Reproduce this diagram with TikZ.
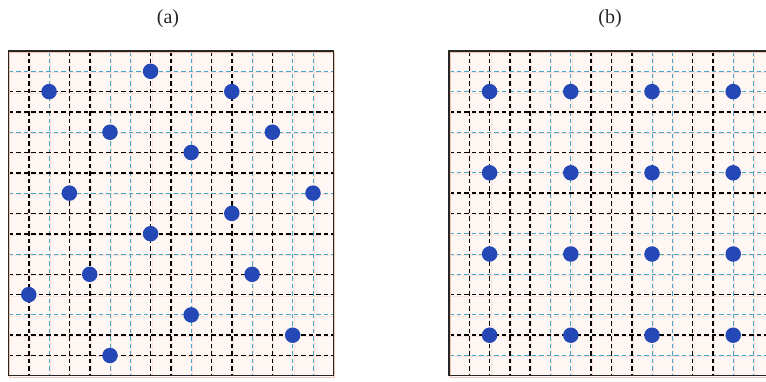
\documentclass[tikz,border=0pt]{standalone}
\usepackage{fontspec}
\setmainfont{Liberation Serif}
\definecolor{dotblue}{RGB}{36,72,182}
\definecolor{gcyan}{RGB}{75,165,200}
\definecolor{gorange}{RGB}{240,170,140}
\definecolor{gbg}{RGB}{254,247,244}
\begin{document}
\begin{tikzpicture}[x=1pt,y=-1pt,
 blackline/.style={black, line width=1.6pt, dash pattern=on 4.5pt off 3pt},
 cyanline/.style={gcyan, line width=1pt, dash pattern=on 4.5pt off 3pt},
 faint/.style={gorange!30, line width=0.5pt},
 frame/.style={draw=black!85, line width=1.1pt},
 dot/.style={circle, fill=dotblue, inner sep=0pt, minimum size=15.5pt},
 lab/.style={font=\fontsize{20}{24}\selectfont, text=black!85}]
\useasboundingbox (0,0) rectangle (766,381);
\def\S{20.3}
\def\L{324.8}
% ---------- left panel ----------
\begin{scope}[shift={(8.5,51)}]
 \fill[gbg] (0,0) rectangle (\L,\L);
 \foreach \k in {1,...,15} {
   \draw[faint] (\k*\S+1.2,0) -- ++(0,\L);
   \draw[faint] (0,\k*\S+1.2) -- ++(\L,0);
 }
 \foreach \k in {2,5,6,9,12,14,15} \draw[cyanline] (\k*\S,0) -- ++(0,\L);
 \foreach \k in {1,4,7,10,13} \draw[cyanline] (0,\k*\S) -- ++(\L,0);
 \foreach \k in {1,3,4,7,8,10,11,13} \draw[blackline] (\k*\S,0) -- ++(0,\L);
 \foreach \k in {2,3,5,6,8,9,11,12,14,15} \draw[blackline] (0,\k*\S) -- ++(\L,0);
 \draw[gorange!70, line width=0.8pt] (1.2,1.2) rectangle (\L+1.2,\L+1.2);
 \draw[frame] (0,0) rectangle (\L,\L);
 \foreach \i/\j [count=\n] in {7/1,2/2,11/2,5/4,13/4,9/5,3/7,15/7,11/8,7/9,4/11,12/11,1/12,9/13,14/14,5/15}
   \node[dot] (la\n) at (\i*\S,\j*\S) {};
\end{scope}
% ---------- right panel ----------
\begin{scope}[shift={(449,51)}]
 \clip (-3,-3) rectangle (317.5,\L+3);
 \fill[gbg] (0,0) rectangle (\L,\L);
 \foreach \k in {1,...,15} {
   \draw[faint] (\k*\S+1.2,0) -- ++(0,\L);
   \draw[faint] (0,\k*\S+1.2) -- ++(\L,0);
 }
 \foreach \k in {5,6,10,11,14,15} \draw[cyanline] (\k*\S,0) -- ++(0,\L);
 \foreach \k in {1,2,4,6,9,10,11,13,15} \draw[cyanline] (0,\k*\S) -- ++(\L,0);
 \foreach \k in {1,2,3,4,7,8,9,12,13} \draw[blackline] (\k*\S,0) -- ++(0,\L);
 \foreach \k in {3,5,7,8,12,14} \draw[blackline] (0,\k*\S) -- ++(\L,0);
 \draw[gorange!70, line width=0.8pt] (1.2,1.2) rectangle (\L+1.2,\L+1.2);
 \draw[frame] (0,0) rectangle (\L,\L);
 \foreach \i in {2,6,10,14}
   \foreach \j in {2,6,10,14}
     \node[dot] (rb\i-\j) at (\i*\S,\j*\S) {};
\end{scope}
% ---------- labels ----------
\node[lab] (capa) at (168,19) {(a)};
\node[lab] (capb) at (610,19) {(b)};
\end{tikzpicture}
\end{document}
